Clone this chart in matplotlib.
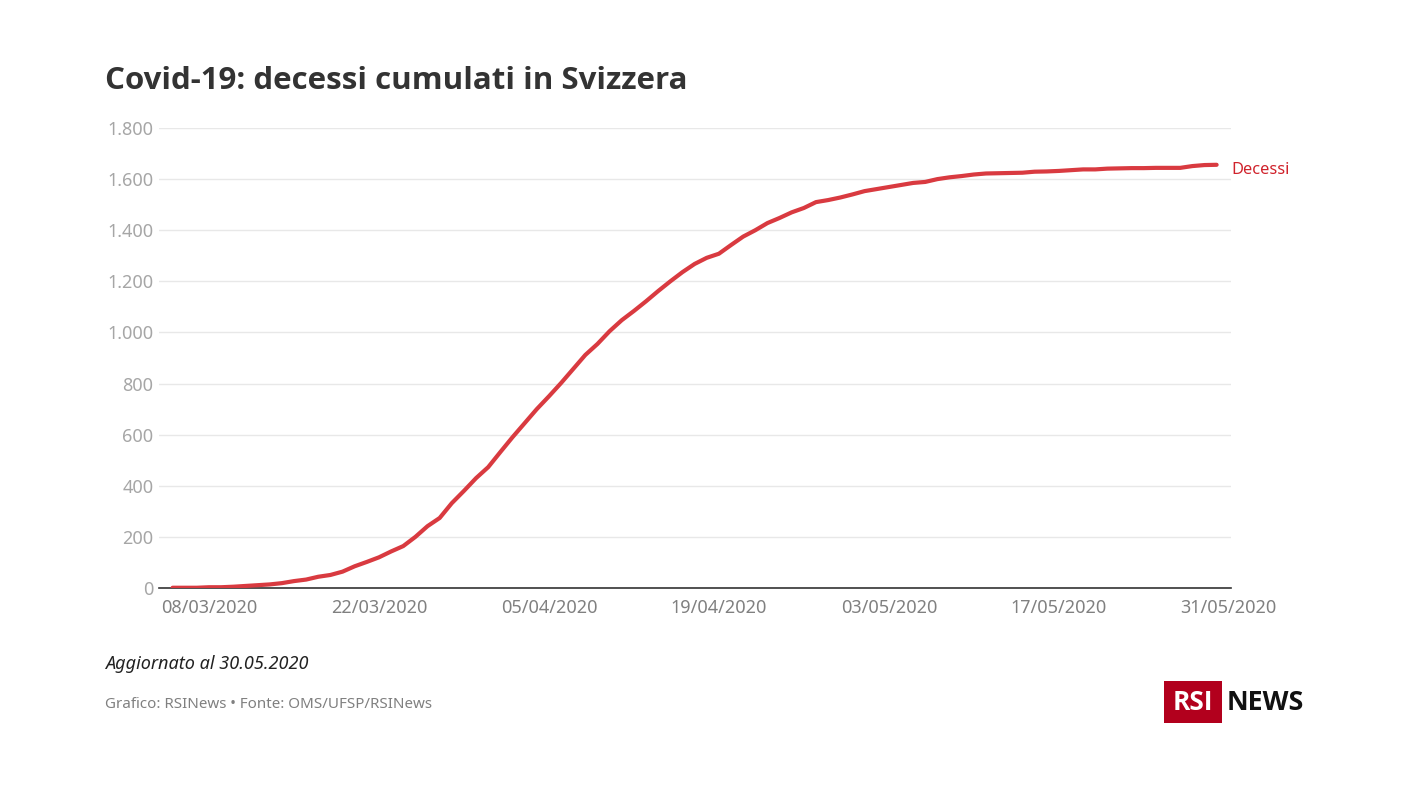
import matplotlib
matplotlib.use("Agg")
import matplotlib.pyplot as plt
import matplotlib.dates as mdates
from matplotlib.patches import Rectangle
import pandas as pd

plt.rcParams['font.family'] = ['Noto Sans', 'DejaVu Sans']

W = 1408
H = 792

start_date = "2020-03-05"
decessi = [1, 1, 1, 3, 3, 5, 8, 11, 14, 19, 27, 33, 44, 51, 64, 85, 102, 120, 143, 164,
           200, 242, 274, 332, 380, 430, 473, 532, 590, 645, 700, 750, 802, 857, 912, 955,
           1005, 1048, 1084, 1122, 1162, 1200, 1236, 1268, 1292, 1308, 1342, 1375, 1400,
           1428, 1448, 1470, 1487, 1510, 1518, 1528, 1540, 1553, 1561, 1569, 1577, 1585,
           1589, 1600, 1607, 1612, 1618, 1622, 1623, 1624, 1625, 1629, 1630, 1632, 1635,
           1638, 1638, 1641, 1642, 1643, 1643, 1644, 1644, 1644, 1651, 1655, 1656]
date_ticks = ["2020-03-08", "2020-03-22", "2020-04-05", "2020-04-19", "2020-05-03", "2020-05-17", "2020-05-31"]
y_ticks = [0, 200, 400, 600, 800, 1000, 1200, 1400, 1600, 1800]
y_labels = ["0", "200", "400", "600", "800", "1.000", "1.200", "1.400", "1.600", "1.800"]

def fx(px):
    return px / W

def fy(py):
    return 1 - py / H

dates = pd.date_range(start_date, periods=len(decessi), freq="D")
ticks = pd.to_datetime(date_ticks)

fig = plt.figure(figsize=(W / 100, H / 100), dpi=100, facecolor="white")
ax = fig.add_axes([fx(159), fy(588), (1231 - 159) / W, (588 - 128) / H])

ax.plot(dates, decessi, color="#d93a40", lw=3.0, solid_capstyle="round", solid_joinstyle="round", zorder=3)

day = pd.Timedelta(days=1)
ax.set_xlim(ticks[0] - day * (50 / 12.14), ticks[0] + day * (1022 / 12.14))
ax.set_ylim(0, 1800)
ax.set_xticks(ticks)
ax.xaxis.set_major_formatter(mdates.DateFormatter("%d/%m/%Y"))
ax.set_yticks(y_ticks)
ax.set_yticklabels(y_labels)
ax.tick_params(axis="x", length=0, pad=8, labelsize=13, labelcolor="#808080")
ax.tick_params(axis="y", length=0, pad=4, labelsize=13, labelcolor="#a6a6a6")
ax.grid(axis="y", color="#e8e8e8", lw=1.0)
ax.set_axisbelow(True)
for side in ["top", "right", "left"]:
    ax.spines[side].set_visible(False)
ax.spines["bottom"].set_color("#333333")
ax.spines["bottom"].set_linewidth(1.2)
ax.spines["bottom"].set_zorder(2)

fig.text(fx(105), fy(81), "Covid-19: decessi cumulati in Svizzera", fontsize=22.5, fontweight="bold",
         family=["Open Sans", "DejaVu Sans"], color="#333333", va="center", ha="left")
fig.text(fx(1231), fy(170), "Decessi", fontsize=11.8, color="#d0222b", va="center", ha="left")
fig.text(fx(105), fy(664), "Aggiornato al 30.05.2020", fontsize=13, style="italic",
         color="#222222", va="center", ha="left")
fig.text(fx(105), fy(705), "Grafico: RSINews • Fonte: OMS/UFSP/RSINews", fontsize=10.9, color="#808080",
         va="center", ha="left")

# logo
fig.add_artist(Rectangle((fx(1164), fy(722.5)), 57.5 / W, 41.5 / H, transform=fig.transFigure,
                         facecolor="#b2001d", edgecolor="none"))
fig.text(fx(1192.5), fy(703), "RSI", fontsize=19, fontweight="bold", family=["Open Sans", "DejaVu Sans"],
         color="white", va="center", ha="center")
fig.text(fx(1227), fy(703), "NEWS", fontsize=19.3, fontweight="bold", family=["Open Sans", "DejaVu Sans"],
         color="#111111", va="center", ha="left")

fig.savefig("out.png", dpi=100)
